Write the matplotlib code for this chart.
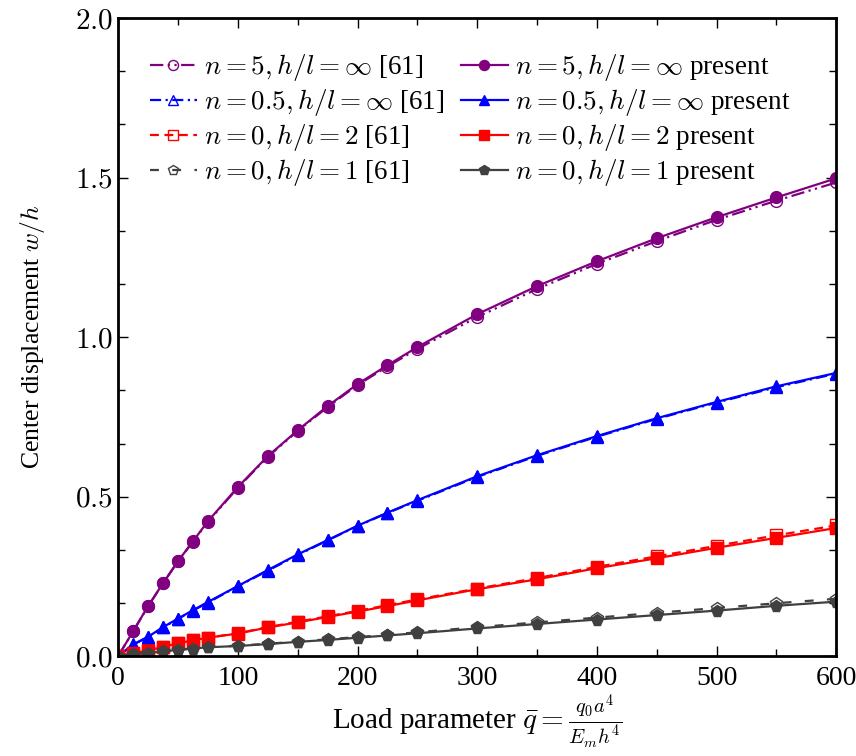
import numpy as np
import matplotlib
matplotlib.use("Agg")
import matplotlib.pyplot as plt
from matplotlib.ticker import MultipleLocator, AutoMinorLocator, FuncFormatter

plt.rcParams['font.family'] = ['Liberation Serif', 'DejaVu Serif']
plt.rcParams['mathtext.fontset'] = 'cm'

# load parameter values (markers)
q = [0, 12.5, 25, 37.5, 50, 62.5, 75, 100, 125, 150, 175, 200, 225, 250,
     300, 350, 400, 450, 500, 550, 600]

# n = 5, h/l = inf
w5_ref = [0, 0.078, 0.156, 0.228, 0.297, 0.359, 0.421, 0.528, 0.625, 0.706, 0.781,
          0.850, 0.908, 0.963, 1.063, 1.151, 1.230, 1.301, 1.368, 1.428, 1.485]
w5_pre = [0, 0.078, 0.157, 0.229, 0.298, 0.360, 0.423, 0.530, 0.627, 0.708, 0.784,
          0.853, 0.912, 0.969, 1.072, 1.160, 1.238, 1.310, 1.376, 1.438, 1.498]
# n = 0.5, h/l = inf
w05_ref = [0, 0.036, 0.060, 0.090, 0.117, 0.143, 0.168, 0.219, 0.268, 0.317, 0.363,
           0.408, 0.449, 0.487, 0.562, 0.628, 0.688, 0.744, 0.795, 0.843, 0.886]
w05_pre = [0, 0.037, 0.061, 0.091, 0.118, 0.144, 0.170, 0.220, 0.270, 0.319, 0.364,
           0.409, 0.450, 0.489, 0.564, 0.630, 0.690, 0.746, 0.797, 0.846, 0.888]
# n = 0, h/l = 2
w2_ref = [0, 0.010, 0.018, 0.030, 0.040, 0.050, 0.058, 0.072, 0.091, 0.108, 0.125,
          0.142, 0.160, 0.178, 0.212, 0.245, 0.280, 0.313, 0.346, 0.379, 0.410]
w2_pre = [0, 0.010, 0.017, 0.030, 0.040, 0.050, 0.058, 0.071, 0.090, 0.106, 0.123,
          0.140, 0.157, 0.175, 0.210, 0.241, 0.276, 0.307, 0.340, 0.371, 0.402]
# n = 0, h/l = 1
w1_ref = [0, 0.006, 0.010, 0.015, 0.020, 0.024, 0.028, 0.033, 0.039, 0.046, 0.053,
          0.060, 0.067, 0.075, 0.091, 0.106, 0.121, 0.136, 0.151, 0.166, 0.180]
w1_pre = [0, 0.006, 0.010, 0.015, 0.020, 0.024, 0.028, 0.032, 0.038, 0.045, 0.051,
          0.058, 0.065, 0.072, 0.087, 0.101, 0.115, 0.129, 0.143, 0.158, 0.171]

purple = '#800080'
dgray = '#404040'

fig = plt.figure(figsize=(8.56, 7.56), dpi=100)
ax = fig.add_axes([0.138, 0.132, 0.839, 0.844])

ms = 8.5
lw = 1.6
ref_kw = dict(markerfacecolor='none', markersize=ms, lw=lw, markeredgewidth=1.0)
pre_kw = dict(markersize=ms, lw=lw)

ax.plot(q, w5_ref, color=purple, ls=(0, (6, 2, 1, 2, 1, 2)), marker='o',
        label=r'$n=5, h/l=\infty$ [61]', **ref_kw)
ax.plot(q, w05_ref, color='blue', ls=(0, (5, 2, 1, 2)), marker='^',
        label=r'$n=0.5, h/l=\infty$ [61]', **ref_kw)
ax.plot(q, w2_ref, color='red', ls=(0, (4, 2.5)), marker='s',
        label=r'$n=0, h/l=2$ [61]', **ref_kw)
ax.plot(q, w1_ref, color=dgray, ls=(0, (4, 6)), marker='p',
        label=r'$n=0, h/l=1$ [61]', **ref_kw)

ax.plot(q, w5_pre, color=purple, ls='-', marker='o',
        label=r'$n=5, h/l=\infty$ present', **pre_kw)
ax.plot(q, w05_pre, color='blue', ls='-', marker='^',
        label=r'$n=0.5, h/l=\infty$ present', **pre_kw)
ax.plot(q, w2_pre, color='red', ls='-', marker='s',
        label=r'$n=0, h/l=2$ present', **pre_kw)
ax.plot(q, w1_pre, color=dgray, ls='-', marker='p',
        label=r'$n=0, h/l=1$ present', **pre_kw)

ax.set_xlim(0, 600)
ax.set_ylim(0, 2.0)
ax.xaxis.set_major_locator(MultipleLocator(100))
ax.xaxis.set_minor_locator(MultipleLocator(50))
ax.yaxis.set_major_locator(MultipleLocator(0.5))
ax.yaxis.set_minor_locator(AutoMinorLocator(3))
ax.yaxis.set_major_formatter(FuncFormatter(lambda v, p: r'$%.1f$' % v))
ax.tick_params(which='both', direction='in', top=True, right=True)
ax.tick_params(axis='x', pad=7, labelsize=20)
ax.tick_params(axis='y', labelsize=21)
ax.tick_params(which='major', length=7, width=1.0)
ax.tick_params(which='minor', length=5, width=1.0)
for s in ax.spines.values():
    s.set_linewidth(2)

ax.set_xlabel(r'Load parameter $\bar{q}=\frac{q_0 a^4}{E_m h^4}$', fontsize=21, labelpad=1)
ax.set_ylabel(r'Center displacement $w/h$', fontsize=18.5, labelpad=20)

leg = ax.legend(loc='upper left', ncol=2, frameon=False, fontsize=19.5,
                handlelength=1.75, handletextpad=0.25, columnspacing=0.6,
                labelspacing=0.15, markerscale=0.85,
                bbox_to_anchor=(0.01, 0.985))

fig.savefig('out.png', dpi=100)
